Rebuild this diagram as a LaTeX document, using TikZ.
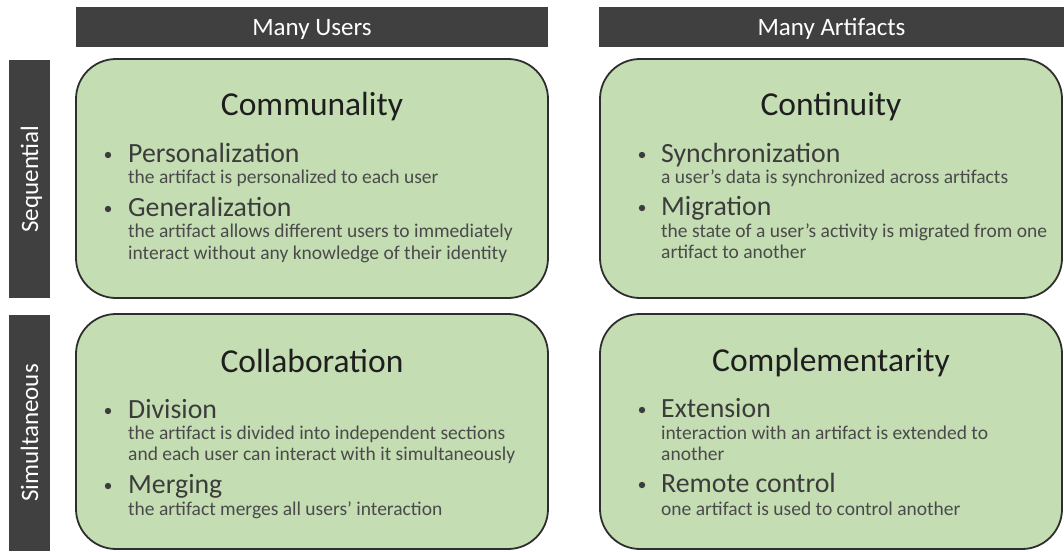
\documentclass[tikz,border=0pt]{standalone}
\usepackage{fontspec}
\setmainfont{Carlito}
\definecolor{barcol}{HTML}{404040}
\definecolor{boxfill}{HTML}{C4DDB3}
\definecolor{boxline}{HTML}{2E2E2E}
\definecolor{titlecol}{HTML}{1E1E1E}
\definecolor{headcol}{HTML}{3C3C3C}
\definecolor{desccol}{HTML}{4A4A4A}
\begin{document}
\begin{tikzpicture}[x=1pt,y=-1pt,
  hbar/.style={fill=barcol, draw=none, text=white, inner sep=0pt,
    font=\fontsize{25}{29}\selectfont, text depth=0pt},
  box/.style={fill=boxfill, draw=boxline, line width=1.8pt, rounded corners=40pt, inner sep=0pt},
  ttl/.style={anchor=base, inner sep=0pt, text=titlecol, font=\fontsize{33.5}{40}\selectfont},
  head/.style={anchor=base west, inner sep=0pt, text=headcol, font=\fontsize{27.8}{33}\selectfont},
  desc/.style={anchor=base west, inner sep=0pt, text=desccol, font=\fontsize{19.5}{23}\selectfont},
  bul/.style={circle, fill=headcol, draw=none, inner sep=0pt, minimum size=6.4pt}
]
\useasboundingbox (0,0) rectangle (1064,551);
% header bars
\node[hbar, minimum width=472pt, minimum height=40pt] (users) at (312,27) {Many Users};
\node[hbar, minimum width=465pt, minimum height=40pt] (artifacts) at (831.5,27) {Many Artifacts};
\node[hbar, rotate=90, minimum width=238pt, minimum height=41pt] (seq) at (29.5,179) {Sequential};
\node[hbar, rotate=90, minimum width=236pt, minimum height=41pt] (sim) at (29.5,433) {Simultaneous};
% boxes
\node[box, minimum width=472pt, minimum height=239pt] (comm) at (312,178.5) {};
\node[box, minimum width=462pt, minimum height=239pt] (cont) at (831,178.5) {};
\node[box, minimum width=472pt, minimum height=235pt] (coll) at (312,431.5) {};
\node[box, minimum width=462pt, minimum height=235pt] (comp) at (831,431.5) {};
% Communality
\node[ttl] (commT) at (312,115) {Communality};
\node[bul] (commB1) at (108,155) {};
\node[head] (commH1) at (128,162) {Personalization};
\node[desc] (commD1) at (128,183) {the artifact is personalized to each user};
\node[bul] (commB2) at (108,209) {};
\node[head] (commH2) at (128,216) {Generalization};
\node[desc] (commD2) at (128,237) {the artifact allows different users to immediately};
\node[desc] (commD3) at (128,259) {interact without any knowledge of their identity};
% Continuity
\node[ttl] (contT) at (831,115) {Continuity};
\node[bul] (contB1) at (642,155) {};
\node[head] (contH1) at (661,162) {Synchronization};
\node[desc] (contD1) at (661,183) {a user’s data is synchronized across artifacts};
\node[bul] (contB2) at (642,208) {};
\node[head] (contH2) at (661,215) {Migration};
\node[desc] (contD2) at (661,237) {the state of a user’s activity is migrated from one};
\node[desc] (contD3) at (661,258) {artifact to another};
% Collaboration
\node[ttl] (collT) at (312,372) {Collaboration};
\node[bul] (collB1) at (108,411) {};
\node[head] (collH1) at (128,418) {Division};
\node[desc] (collD1) at (128,439) {the artifact is divided into independent sections};
\node[desc] (collD2) at (128,460) {and each user can interact with it simultaneously};
\node[bul] (collB2) at (108,486) {};
\node[head] (collH2) at (128,493) {Merging};
\node[desc] (collD3) at (128,515) {the artifact merges all users’ interaction};
% Complementarity
\node[ttl] (compT) at (831,371) {Complementarity};
\node[bul] (compB1) at (642,410) {};
\node[head] (compH1) at (661,417) {Extension};
\node[desc] (compD1) at (661,439) {interaction with an artifact is extended to};
\node[desc] (compD2) at (661,460) {another};
\node[bul] (compB2) at (642,485) {};
\node[head] (compH2) at (661,492) {Remote control};
\node[desc] (compD3) at (661,515) {one artifact is used to control another};
\end{tikzpicture}
\end{document}
